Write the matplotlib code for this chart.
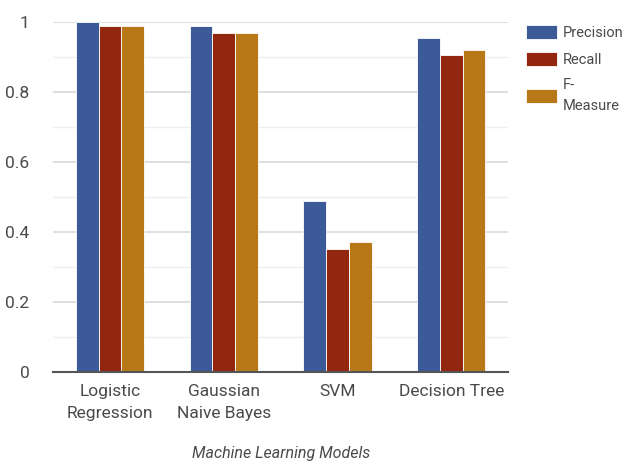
import numpy as np
import matplotlib
matplotlib.use("Agg")
from matplotlib import pyplot as plt

models = ['Logistic\nRegression', 'Gaussian\nNaive Bayes', 'SVM', 'Decision Tree']
precision = [1.00, 0.99, 0.49, 0.955]
recall = [0.99, 0.97, 0.35, 0.905]
fmeasure = [0.99, 0.97, 0.37, 0.92]
series = ['Precision', 'Recall', 'F-\nMeasure']
colors = ['#3c5a98', '#93260e', '#b97818']

plt.rcParams['font.family'] = ['Roboto', 'DejaVu Sans']
txt = '#4a4a4a'

fig = plt.figure(figsize=(6.25, 4.63), dpi=100)
ax = fig.add_axes([0.085, 0.197, 0.728, 0.755])

x = np.arange(len(models))
w = 0.2
for i, vals in enumerate([precision, recall, fmeasure]):
    ax.bar(x + (i - 1) * w, vals, w, color=colors[i], edgecolor='white',
           linewidth=0.6, label=series[i], zorder=3)

ax.set_xlim(-0.5, len(models) - 0.5)
ax.set_ylim(0, 1)
ax.set_yticks([0, 0.2, 0.4, 0.6, 0.8, 1])
ax.set_yticklabels(['0', '0.2', '0.4', '0.6', '0.8', '1'])
ax.set_yticks(np.arange(0.1, 1.0, 0.2), minor=True)
ax.grid(axis='y', which='major', color='#d9d9d9', linewidth=1.2, zorder=0)
ax.grid(axis='y', which='minor', color='#eeeeee', linewidth=1.0, zorder=0)
ax.set_xticks(x)
ax.set_xticklabels(models, linespacing=1.55)
ax.tick_params(axis='both', which='both', length=0, labelsize=12.5, colors=txt)
ax.tick_params(axis='y', pad=17)
ax.tick_params(axis='x', pad=9)
for s in ['top', 'right', 'left']:
    ax.spines[s].set_visible(False)
ax.spines['bottom'].set_color('#555555')
ax.spines['bottom'].set_linewidth(1.5)
ax.spines['bottom'].set_zorder(4)

ax.set_xlabel('Machine Learning Models', fontsize=11.5, style='italic',
              color=txt, labelpad=18)

leg = fig.legend(loc='upper left', bbox_to_anchor=(0.821, 0.975), frameon=False,
                 fontsize=10.5, handlelength=2.1, handleheight=1.15,
                 handletextpad=0.4, labelspacing=0.8, labelcolor=txt)
for t in leg.get_texts():
    t.set_linespacing(1.6)

plt.savefig('out.png', dpi=100)
